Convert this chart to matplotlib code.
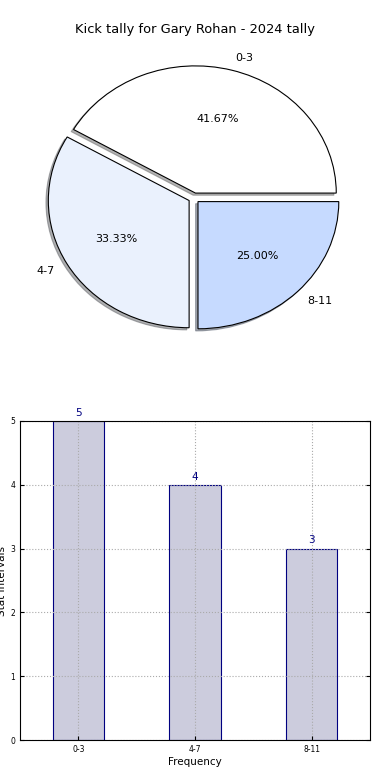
import numpy as np
import matplotlib
matplotlib.use("Agg")
import matplotlib.pyplot as plt

# data
categories = ['0-3', '4-7', '8-11']
counts = [5, 4, 3]
pie_colors = ['#ffffff', '#eaf1fd', '#c6daff']
title = 'Kick tally for Gary Rohan - 2024 tally'

fig = plt.figure(figsize=(3.9, 7.8), dpi=100)

# pie chart
ax1 = fig.add_axes([18 / 390, 1 - 357 / 780, 352 / 390, 318 / 780])
wedges, texts, autotexts = ax1.pie(counts, labels=categories, colors=pie_colors,
                                   autopct='%.2f%%', explode=[0.04, 0.04, 0.04],
                                   shadow={'ox': -0.012, 'oy': -0.012, 'shade': 0.6},
                                   startangle=0,
                                   wedgeprops={'edgecolor': 'black', 'linewidth': 0.8},
                                   textprops={'fontsize': 8})
ax1.set_aspect('auto')
fig.text(0.5, 1 - 30 / 780, title, ha='center', va='center', fontsize=9.4)

# bar chart
ax2 = fig.add_axes([20 / 390, 40 / 780, 350 / 390, 319 / 780])
x = np.arange(len(categories))
ax2.bar(x, counts, width=0.44, color='#ccccdd', edgecolor='navy', linewidth=0.8)
for xi, c in zip(x, counts):
    ax2.text(xi, c + 0.05, str(c), ha='center', va='bottom', color='navy', fontsize=7.5)
ax2.set_xlim(-0.5, 2.5)
ax2.set_ylim(0, 5)
ax2.set_xticks(x)
ax2.set_xticklabels(categories)
ax2.set_yticks(range(6))
ax2.tick_params(labelsize=5.5, direction='in', right=True, length=3)
ax2.grid(True, linestyle=':', color='#aaaaaa', linewidth=0.8)
ax2.set_axisbelow(False)
for sp in ax2.spines.values():
    sp.set_zorder(5)
ax2.set_xlabel('Frequency', fontsize=7.5, labelpad=2)
ax2.set_ylabel('Stat Intervals', fontsize=7.5, labelpad=2)

fig.savefig('out.png', dpi=100)
